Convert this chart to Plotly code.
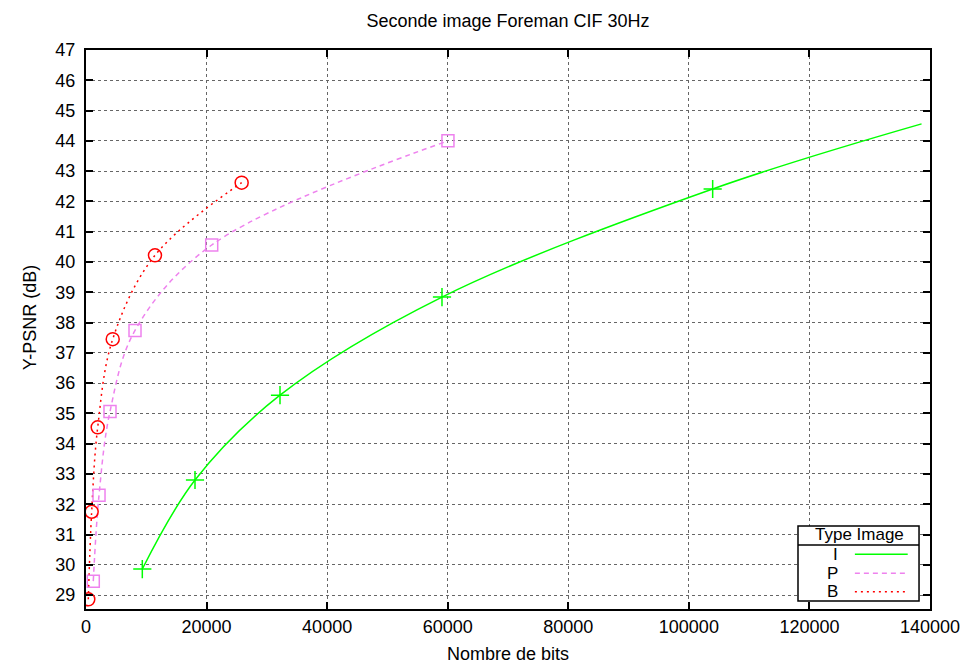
import plotly.graph_objects as go

# Data
i_bits = [9340, 18080, 32180, 59050, 103950]
i_psnr = [29.86, 32.80, 35.60, 38.84, 42.41]
# fitted curve continues past the last point up to this reading
i_curve_end_bits = [138600]
i_curve_end_psnr = [44.56]

p_bits = [1210, 2160, 3980, 8130, 20850, 60040]
p_psnr = [29.46, 32.30, 35.06, 37.74, 40.56, 44.00]

b_bits = [380, 940, 1940, 4430, 11440, 25820]
b_psnr = [28.86, 31.75, 34.54, 37.45, 40.22, 42.62]

legend_labels = ["I", "P", "B"]

GREEN = "#00ff00"
PINK = "#ee82ee"
RED = "#ff0000"
FONT = "Liberation Sans, Arial, sans-serif"

fig = go.Figure()

# curves
fig.add_trace(go.Scatter(x=i_bits + i_curve_end_bits, y=i_psnr + i_curve_end_psnr,
                         mode="lines", line=dict(color=GREEN, width=1.5, shape="spline"),
                         showlegend=False, hoverinfo="skip"))
fig.add_trace(go.Scatter(x=p_bits, y=p_psnr, mode="lines",
                         line=dict(color=PINK, width=1.5, dash="5px,4px", shape="spline"),
                         showlegend=False, hoverinfo="skip"))
fig.add_trace(go.Scatter(x=b_bits, y=b_psnr, mode="lines",
                         line=dict(color=RED, width=1.5, dash="2px,4px", shape="spline"),
                         showlegend=False, hoverinfo="skip"))

# markers
fig.add_trace(go.Scatter(x=i_bits, y=i_psnr, mode="markers", name="I",
                         marker=dict(symbol="cross-thin", size=13, color=GREEN,
                                     line=dict(color=GREEN, width=1.5)),
                         showlegend=False))
fig.add_trace(go.Scatter(x=p_bits, y=p_psnr, mode="markers", name="P",
                         marker=dict(symbol="square-open", size=12, color=PINK,
                                     line=dict(color=PINK, width=1.5)),
                         showlegend=False))
fig.add_trace(go.Scatter(x=b_bits, y=b_psnr, mode="markers", name="B",
                         marker=dict(symbol="circle-open", size=13, color=RED,
                                     line=dict(color=RED, width=1.5)),
                         showlegend=False))

# gnuplot-style key box, bottom right
shapes = [
    dict(type="rect", xref="paper", yref="paper", x0=0.8436, x1=0.9870, y0=0.0143, y1=0.1485,
         line=dict(color="black", width=1.5), fillcolor="white", layer="above"),
    dict(type="line", xref="paper", yref="paper", x0=0.8436, x1=0.9870, y0=0.1145, y1=0.1145,
         line=dict(color="black", width=1.5), layer="above"),
]
annotations = [
    dict(text="Type Image", xref="paper", yref="paper", x=0.9159, y=0.1324,
         xanchor="center", yanchor="middle",
         showarrow=False, font=dict(size=17, color="black", family=FONT)),
    dict(text="Y-PSNR (dB)", xref="paper", yref="paper", x=-0.0664, y=0.522,
         xanchor="center", yanchor="middle", textangle=-90,
         showarrow=False, font=dict(size=18, color="black", family=FONT)),
]
key_y = [0.0978, 0.0639, 0.031]
key_style = [(GREEN, "solid"), (PINK, "5px,4px"), (RED, "2px,4px")]
for lab, ky, (col, dash) in zip(legend_labels, key_y, key_style):
    shapes.append(dict(type="line", xref="paper", yref="paper", x0=0.911, x1=0.9736, y0=ky, y1=ky,
                       line=dict(color=col, width=1.5, dash=dash), layer="above"))
    annotations.append(dict(text=lab, xref="paper", yref="paper", x=0.8935, y=ky,
                            xanchor="right", yanchor="middle",
                            showarrow=False, font=dict(size=17, color="black", family=FONT)))

axis_common = dict(
    showline=True, linecolor="black", linewidth=2, mirror="allticks",
    ticks="inside", ticklen=7, tickwidth=1.5, tickcolor="black",
    showgrid=True, gridcolor="#666666", griddash="dot", gridwidth=1,
    zeroline=False, automargin=False, tickformat="d",
    tickfont=dict(size=18, color="black", family=FONT),
)

fig.update_layout(
    width=964, height=664,
    plot_bgcolor="white", paper_bgcolor="white",
    margin=dict(l=86, r=34, t=50, b=55),
    font=dict(family=FONT, color="black"),
    title=dict(text="Seconde image Foreman CIF 30Hz", x=0.5, xref="paper",
               y=0.969, yanchor="middle",
               font=dict(size=18, color="black", family=FONT)),
    xaxis=dict(range=[0, 140000], dtick=20000, tick0=0,
               title=dict(text="Nombre de bits", font=dict(size=18, family=FONT), standoff=14),
               **axis_common),
    yaxis=dict(range=[28.54, 47], dtick=1, tick0=29, ticklabelstandoff=5,
               **axis_common),
    shapes=shapes,
    annotations=annotations,
)

# page body has a default 8px margin; drop it so the figure fills the window
fig.write_html("out.html", config={"displayModeBar": False},
               post_script="document.body.style.margin='0px';")
